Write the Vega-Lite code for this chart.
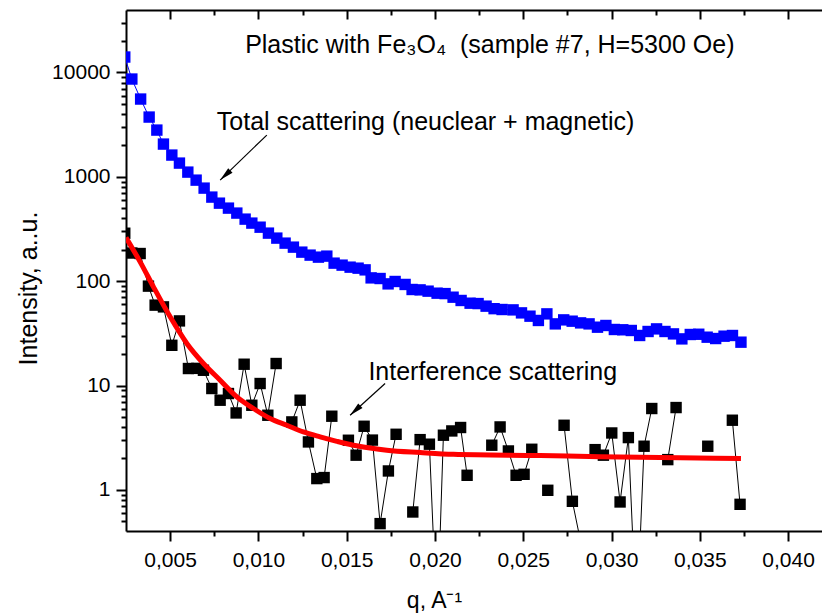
{
  "$schema": "https://vega.github.io/schema/vega-lite/v6.json",
  "width": 696,
  "height": 521,
  "autosize": {"type": "none"},
  "padding": {"left": 126, "top": 10, "right": 0, "bottom": 85},
  "config": {
    "view": {"stroke": null},
    "font": "Liberation Sans",
    "axis": {
      "grid": false,
      "domainColor": "#000000",
      "domainWidth": 2,
      "tickColor": "#000000",
      "tickWidth": 2,
      "labelColor": "#000000",
      "titleColor": "#000000",
      "labelFont": "Liberation Sans",
      "titleFont": "Liberation Sans",
      "labelFontSize": 21,
      "titleFontWeight": "normal",
      "labelOverlap": false,
      "labelFlush": false,
      "labelBound": false
    }
  },
  "datasets": {
    "blue": [
      {"q": 0.00243, "v": 14050}, {"q": 0.002831, "v": 8645}, {"q": 0.003329, "v": 5559}, {"q": 0.003811, "v": 3736},
      {"q": 0.004247, "v": 2803}, {"q": 0.004621, "v": 2058}, {"q": 0.005096, "v": 1615}, {"q": 0.005527, "v": 1353},
      {"q": 0.006002, "v": 1109}, {"q": 0.006472, "v": 929}, {"q": 0.006925, "v": 779}, {"q": 0.007361, "v": 639},
      {"q": 0.007792, "v": 559}, {"q": 0.008302, "v": 501}, {"q": 0.008777, "v": 449}, {"q": 0.009247, "v": 393},
      {"q": 0.009627, "v": 360}, {"q": 0.010097, "v": 329}, {"q": 0.010567, "v": 288.6}, {"q": 0.011042, "v": 258.5},
      {"q": 0.011512, "v": 231.4}, {"q": 0.011982, "v": 211.8}, {"q": 0.012458, "v": 189.7}, {"q": 0.012928, "v": 177.6},
      {"q": 0.013398, "v": 169.9}, {"q": 0.013874, "v": 173.7}, {"q": 0.014287, "v": 148.8}, {"q": 0.01474, "v": 142.4},
      {"q": 0.015193, "v": 136.2}, {"q": 0.015646, "v": 133.2}, {"q": 0.016043, "v": 128.3}, {"q": 0.016383, "v": 107.5},
      {"q": 0.016892, "v": 106}, {"q": 0.017345, "v": 94.2}, {"q": 0.017742, "v": 99.3}, {"q": 0.018308, "v": 93.0},
      {"q": 0.018704, "v": 83.2}, {"q": 0.019158, "v": 82.5}, {"q": 0.019611, "v": 80.2}, {"q": 0.02012, "v": 76.7},
      {"q": 0.020573, "v": 76}, {"q": 0.021026, "v": 70.2}, {"q": 0.02148, "v": 65.3}, {"q": 0.021989, "v": 61.5},
      {"q": 0.022442, "v": 61}, {"q": 0.022895, "v": 57.6}, {"q": 0.023348, "v": 54.5}, {"q": 0.023801, "v": 53.5},
      {"q": 0.024424, "v": 53.06}, {"q": 0.0249, "v": 49.67}, {"q": 0.025381, "v": 46.18}, {"q": 0.025857, "v": 42.01},
      {"q": 0.026338, "v": 48.59}, {"q": 0.026814, "v": 38.96}, {"q": 0.02729, "v": 42.56}, {"q": 0.027771, "v": 41.35},
      {"q": 0.028247, "v": 39.83}, {"q": 0.028728, "v": 38.96}, {"q": 0.029204, "v": 36.22}, {"q": 0.029679, "v": 37.61},
      {"q": 0.03016, "v": 34.43}, {"q": 0.030636, "v": 34.2}, {"q": 0.031118, "v": 33.68}, {"q": 0.031593, "v": 30.16},
      {"q": 0.032069, "v": 32.94}, {"q": 0.03255, "v": 34.89}, {"q": 0.033026, "v": 32.94}, {"q": 0.033508, "v": 31.24},
      {"q": 0.033983, "v": 27.98}, {"q": 0.034459, "v": 30.83}, {"q": 0.03494, "v": 31.0}, {"q": 0.035416, "v": 29.05},
      {"q": 0.035897, "v": 28.2}, {"q": 0.036373, "v": 29.7}, {"q": 0.036849, "v": 30.16}, {"q": 0.03733, "v": 26.02}
    ],
    "black": [
      {"q": 0.00243, "v": 288, "seg": 1}, {"q": 0.002831, "v": 186, "seg": 1}, {"q": 0.003301, "v": 184, "seg": 1},
      {"q": 0.003771, "v": 89.6, "seg": 1}, {"q": 0.00415, "v": 58.9, "seg": 1}, {"q": 0.004621, "v": 56.7, "seg": 1},
      {"q": 0.005096, "v": 24.3, "seg": 1}, {"q": 0.005527, "v": 41.6, "seg": 1}, {"q": 0.006036, "v": 14.55, "seg": 1},
      {"q": 0.006512, "v": 14.6, "seg": 1}, {"q": 0.006886, "v": 14.0, "seg": 1}, {"q": 0.007361, "v": 9.36, "seg": 1},
      {"q": 0.007832, "v": 7.23, "seg": 1}, {"q": 0.008302, "v": 8.38, "seg": 1}, {"q": 0.008738, "v": 5.46, "seg": 1},
      {"q": 0.009191, "v": 16.0, "seg": 1}, {"q": 0.009627, "v": 6.47, "seg": 1}, {"q": 0.010097, "v": 10.45, "seg": 1},
      {"q": 0.010533, "v": 5.19, "seg": 1}, {"q": 0.011003, "v": 16.25, "seg": 1},
      {"q": 0.011892, "v": 4.48, "seg": 2}, {"q": 0.012362, "v": 7.23, "seg": 2}, {"q": 0.012832, "v": 2.88, "seg": 2},
      {"q": 0.013308, "v": 1.283, "seg": 2}, {"q": 0.013721, "v": 1.312, "seg": 2}, {"q": 0.014157, "v": 5.08, "seg": 2},
      {"q": 0.015097, "v": 2.99, "seg": 3}, {"q": 0.015533, "v": 2.15, "seg": 3}, {"q": 0.015986, "v": 4.07, "seg": 3},
      {"q": 0.016456, "v": 3.0, "seg": 3}, {"q": 0.016892, "v": 0.475, "seg": 3}, {"q": 0.017362, "v": 1.518, "seg": 3},
      {"q": 0.017798, "v": 3.41, "seg": 3},
      {"q": 0.018744, "v": 0.614, "seg": 4}, {"q": 0.019158, "v": 3.03, "seg": 4}, {"q": 0.019684, "v": 2.74, "seg": 4},
      {"q": 0.02012, "v": 0.05, "seg": 4}, {"q": 0.020478, "v": 3.34, "seg": 4}, {"q": 0.020953, "v": 3.67, "seg": 4},
      {"q": 0.021451, "v": 3.96, "seg": 4}, {"q": 0.021819, "v": 1.38, "seg": 4},
      {"q": 0.023218, "v": 2.68, "seg": 5}, {"q": 0.023688, "v": 4.01, "seg": 5}, {"q": 0.024158, "v": 2.36, "seg": 5},
      {"q": 0.024594, "v": 1.38, "seg": 5}, {"q": 0.025047, "v": 1.41, "seg": 5}, {"q": 0.025483, "v": 2.45, "seg": 5},
      {"q": 0.026389, "v": 0.991, "seg": 6},
      {"q": 0.027312, "v": 4.16, "seg": 7}, {"q": 0.027782, "v": 0.777, "seg": 7}, {"q": 0.028247, "v": 0.32, "seg": 7},
      {"q": 0.029068, "v": 2.43, "seg": 8}, {"q": 0.029538, "v": 2.15, "seg": 8}, {"q": 0.030013, "v": 3.51, "seg": 8},
      {"q": 0.030484, "v": 0.766, "seg": 8}, {"q": 0.030953, "v": 3.17, "seg": 8}, {"q": 0.031418, "v": 0.05, "seg": 8},
      {"q": 0.031843, "v": 2.62, "seg": 8}, {"q": 0.032279, "v": 6.02, "seg": 8},
      {"q": 0.033185, "v": 1.95, "seg": 9}, {"q": 0.033655, "v": 6.15, "seg": 9},
      {"q": 0.03545, "v": 2.62, "seg": 10},
      {"q": 0.036843, "v": 4.65, "seg": 11}, {"q": 0.037279, "v": 0.727, "seg": 11}
    ],
    "fit": [
      {"q": 0.0025, "v": 262}, {"q": 0.003301, "v": 153.1}, {"q": 0.004054, "v": 88.2}, {"q": 0.005, "v": 45.5},
      {"q": 0.005946, "v": 25.3}, {"q": 0.006886, "v": 16.25}, {"q": 0.007832, "v": 11.24}, {"q": 0.008777, "v": 7.78},
      {"q": 0.009717, "v": 6.02}, {"q": 0.010663, "v": 4.83}, {"q": 0.011609, "v": 4.16}, {"q": 0.012549, "v": 3.59},
      {"q": 0.013495, "v": 3.22}, {"q": 0.01444, "v": 2.92}, {"q": 0.01538, "v": 2.68}, {"q": 0.016326, "v": 2.52},
      {"q": 0.017271, "v": 2.4}, {"q": 0.019158, "v": 2.28}, {"q": 0.021045, "v": 2.19}, {"q": 0.025953, "v": 2.13},
      {"q": 0.029351, "v": 2.08}, {"q": 0.033881, "v": 2.03}, {"q": 0.03733, "v": 2.0}
    ],
    "notes": [
      {"q": 0.009247, "v": 15245, "label": "Plastic with Fe₃O₄\u00a0 (sample #7, H=5300 Oe)"},
      {"q": 0.007645, "v": 2803, "label": "Total scattering (neuclear + magnetic)"},
      {"q": 0.01623, "v": 11.37, "label": "Interference scattering"}
    ],
    "arrows": [
      {"q": 0.010476, "v": 2511, "q2": 0.007832, "v2": 929.5},
      {"q": 0.017175, "v": 10.45, "q2": 0.015193, "v2": 5.19}
    ]
  },
  "encoding": {
    "x": {"field": "q", "type": "quantitative", "axis": null,
          "scale": {"domain": [0.0025, 0.04192], "nice": false, "zero": false}},
    "y": {"field": "v", "type": "quantitative",
          "scale": {"type": "log", "domain": [0.4036, 39660], "nice": false},
          "axis": {
            "orient": "left",
            "values": [0.5, 0.6, 0.7, 0.8, 0.9, 1, 2, 3, 4, 5, 6, 7, 8, 9, 10, 20, 30, 40, 50, 60, 70, 80, 90, 100, 200, 300, 400, 500, 600, 700, 800, 900, 1000, 2000, 3000, 4000, 5000, 6000, 7000, 8000, 9000, 10000, 20000, 30000],
            "labelExpr": "abs(log(datum.value)/LN10 - round(log(datum.value)/LN10)) < 0.001 ? format(datum.value, 'd') : ''",
            "tickSize": {"condition": {"test": "abs(log(datum.value)/LN10 - round(log(datum.value)/LN10)) < 0.001", "value": 10}, "value": 5},
            "labelPadding": 6,
            "labelBaseline": "middle",
            "title": "Intensity, a..u.",
            "titleFontSize": 25,
            "titleAngle": -90,
            "titleAlign": "center",
            "titleBaseline": "alphabetic",
            "titleX": -90,
            "titleY": 278
          }}
  },
  "layer": [
    {
      "data": {"name": "blue"},
      "mark": {"type": "line", "color": "#0000ff", "strokeWidth": 1, "clip": true},
      "encoding": {
        "x": {"field": "q", "type": "quantitative",
              "scale": {"domain": [0.0025, 0.04192], "nice": false, "zero": false},
              "axis": {
                "orient": "top",
                "values": [0.005, 0.0075, 0.01, 0.0125, 0.015, 0.0175, 0.02, 0.0225, 0.025, 0.0275, 0.03, 0.0325, 0.035, 0.0375, 0.04],
                "labels": false,
                "title": null,
                "tickSize": {"condition": {"test": "abs(datum.value*200-round(datum.value*200))<0.01", "value": -9}, "value": -5}
              }}
      }
    },
    {
      "data": {"name": "blue"},
      "mark": {"type": "point", "shape": "square", "filled": true, "size": 130, "color": "#0000ff", "opacity": 1, "clip": true}
    },
    {
      "data": {"name": "black"},
      "mark": {"type": "line", "color": "#000000", "strokeWidth": 1, "clip": true},
      "encoding": {"detail": {"field": "seg", "type": "nominal"}, "order": {"field": "q", "type": "quantitative"}}
    },
    {
      "data": {"name": "black"},
      "mark": {"type": "point", "shape": "square", "filled": true, "size": 130, "color": "#000000", "opacity": 1, "clip": true},
      "encoding": {
        "x": {"field": "q", "type": "quantitative",
              "scale": {"domain": [0.0025, 0.04192], "nice": false, "zero": false},
              "axis": {
                "orient": "bottom",
                "values": [0.005, 0.0075, 0.01, 0.0125, 0.015, 0.0175, 0.02, 0.0225, 0.025, 0.0275, 0.03, 0.0325, 0.035, 0.0375, 0.04],
                "labelExpr": "abs(datum.value*200-round(datum.value*200))<0.01 ? replace(format(datum.value, '.3f'), '.', ',') : ''",
                "tickSize": {"condition": {"test": "abs(datum.value*200-round(datum.value*200))<0.01", "value": 10}, "value": 5},
                "labelPadding": 8,
                "title": "q, A⁻¹",
                "titleFontSize": 23,
                "titleAlign": "center",
                "titleBaseline": "alphabetic",
                "titleX": 308,
                "titleY": 76
              }}
      }
    },
    {
      "data": {"name": "fit"},
      "mark": {"type": "line", "color": "#ff0000", "strokeWidth": 5, "interpolate": "monotone", "clip": true}
    },
    {
      "data": {"name": "arrows"},
      "mark": {"type": "rule", "color": "#000000", "strokeWidth": 1.2},
      "encoding": {
        "x2": {"field": "q2"},
        "y2": {"field": "v2"}
      }
    },
    {
      "data": {"name": "arrows"},
      "mark": {"type": "point", "shape": "M0,0L0.45,2L-0.45,2Z", "filled": true, "size": 196, "color": "#000000", "opacity": 1, "angle": 227},
      "encoding": {
        "x": {"field": "q2", "type": "quantitative"},
        "y": {"field": "v2", "type": "quantitative"}
      }
    },
    {
      "data": {"name": "notes"},
      "mark": {"type": "text", "align": "left", "baseline": "alphabetic", "fontSize": 25, "font": "Liberation Sans", "color": "#000000"},
      "encoding": {"text": {"field": "label"}}
    }
  ],
  "resolve": {"axis": {"x": "independent"}}
}
